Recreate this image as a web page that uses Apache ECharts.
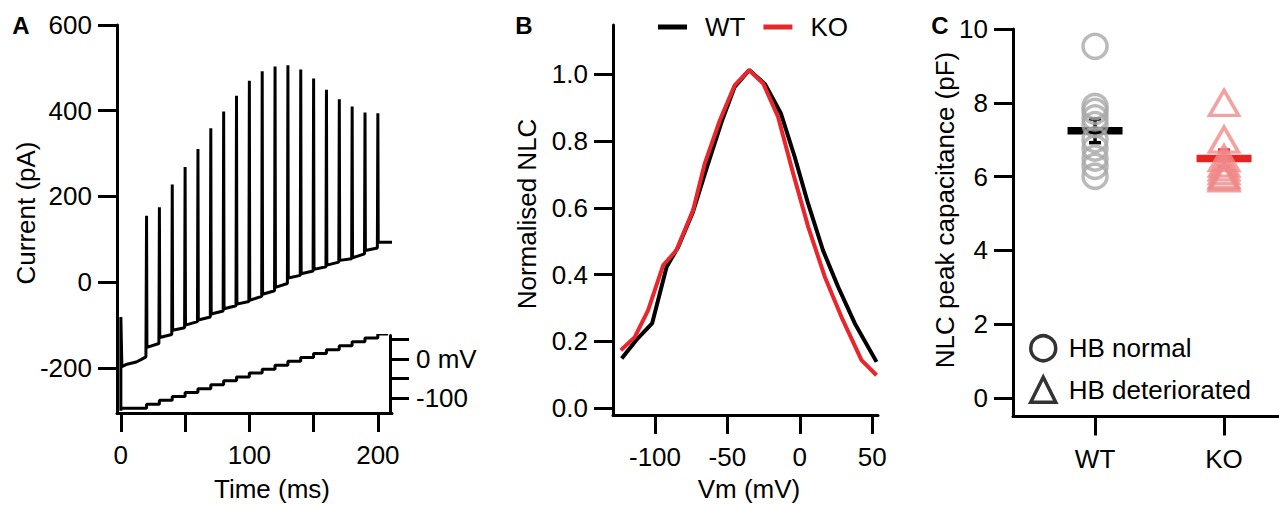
<!DOCTYPE html>
<html><head><meta charset="utf-8">
<script src="https://cdn.jsdelivr.net/npm/echarts@6/dist/echarts.min.js"></script>
<style>html,body{margin:0;padding:0;background:#fff}#c{width:1279px;height:505px}</style>
</head><body><div id="c"></div>
<script>
// ---------- Panel A : current trace ----------
const spikeTimes = [20,30,40,50,60,70,80,90,100,110,120,130,140,150,160,170,180,190,200];
const spikePeaks = [155,175,228,269,311,359,398,435,470,492,503,506,496,475,449,427,410,396,394];
const baseAfter  = [-152,-129,-112,-100,-88,-74,-62,-51,-42,-28,-12,10,20,30,40,51,57,74,94];
const baseBefore = [-143,-122,-106,-92,-81,-67,-55,-45,-33,-20,-3,16,26,36,47,55,66,80,93];
const initialTrace = [[0,-300],[0,-81],[0.8,-197],[4,-192],[8,-189],[12,-186],[16,-180],[19.5,-174]];
const traceEndTime = 211;
// ---------- Panel A : voltage protocol ----------
const voltTimes  = [0,20,30,40,50,60,70,80,90,100,110,120,130,140,150,160,170,180,190,200,208];
const voltLevels = [-126,-116,-106,-96,-86,-76,-66,-56,-46,-36,-26,-16,-6,4,14,24,34,44,54,64,64];
// ---------- Panel B ----------
const vmWT  = [-123,-113,-102,-92,-84,-74,-64,-54,-45,-35,-24,-13,-3.5,5.7,16,26.5,38,53];
const nlcWT = [0.149,0.204,0.254,0.423,0.483,0.585,0.723,0.857,0.962,1.012,0.97,0.882,0.752,0.613,0.473,0.363,0.254,0.139];
const vmKO  = [-123.6,-114,-104.8,-94.4,-85.2,-73.7,-65.6,-55.2,-44.9,-35,-25.3,-15,-4.6,5.8,17.3,28.8,42.6,53];
const nlcKO = [0.174,0.213,0.293,0.428,0.473,0.593,0.733,0.862,0.967,1.012,0.972,0.872,0.703,0.543,0.393,0.273,0.144,0.099];
// ---------- Panel C ----------
const categories = ['WT','KO'];
const capWT = [9.53,7.90,7.77,7.59,7.41,7.0,6.77,6.5,6.28,6.01];
const capKO = [8.0,7.0,6.5,6.35,6.25,6.15,6.05,6.0,5.95];
const capMean = [7.24,6.49];
const capSem  = [0.32,0.23];
// ---------- tick labels ----------
const aTimeTicks = [0,50,100,150,200];
const aTimeLabels = [0,100,200];
const aCurrentTicks = [-200,0,200,400,600];
const aVoltTicks = [50,0,-50,-100];
const aVoltLabels = [0,-100];
const bVmTicks = [-100,-50,0,50];
const bNlcTicks = [0,0.2,0.4,0.6,0.8,1.0];
const cCapTicks = [0,2,4,6,8,10];

const FONT = 'Liberation Sans';
const currentTrace = initialTrace.slice();
spikeTimes.forEach((t,i)=>{
  currentTrace.push([t, spikePeaks[i]]);
  currentTrace.push([t+0.3, baseAfter[i]]);
  const tNext = i+1 < spikeTimes.length ? spikeTimes[i+1]-0.4 : traceEndTime;
  currentTrace.push([tNext, baseBefore[i]]);
});
const voltTrace = voltTimes.map((t,i)=>[t, voltLevels[i]]);

const axisLine = {show:true, onZero:false, lineStyle:{color:'#000', width:3}};
const tick = (vals)=>({show:true, length:19, customValues:vals, lineStyle:{color:'#000', width:3}});
const label = (vals, extra)=>Object.assign({show:true, customValues:vals, color:'#000', fontSize:26, fontFamily:FONT, margin:25}, extra||{});

const chart = echarts.init(document.getElementById('c'), null, {renderer:'svg'});
chart.setOption({
  animation:false,
  backgroundColor:'#fff',
  textStyle:{fontFamily:FONT},
  grid:[
    {left:117, top:25, width:275, height:388, outerBoundsMode:'none'},
    {left:117, top:335.6, width:273, height:78, outerBoundsMode:'none'},
    {left:613, top:25, width:265, height:390, outerBoundsMode:'none'},
    {left:1013, top:29, width:266, height:387.5, outerBoundsMode:'none'}
  ],
  xAxis:[
    {gridIndex:0, type:'value', min:-3, max:211, axisLine, axisTick:tick(aTimeTicks), axisLabel:label(aTimeLabels,{margin:29}), splitLine:{show:false}},
    {gridIndex:1, type:'value', min:-3, max:209.5, show:false},
    {gridIndex:2, type:'value', min:-129, max:54, axisLine, axisTick:tick(bVmTicks), axisLabel:label(bVmTicks,{margin:29}), splitLine:{show:false}},
    {gridIndex:3, type:'value', min:-0.636, max:1.426, axisLine, axisTick:tick([0,1]), axisLabel:label([0,1],{margin:29, formatter:v=>categories[Math.round(v)]}), splitLine:{show:false}}
  ],
  yAxis:[
    {gridIndex:0, type:'value', min:-305, max:600, axisLine, axisTick:tick(aCurrentTicks), axisLabel:label(aCurrentTicks), splitLine:{show:false}},
    {gridIndex:1, type:'value', position:'right', min:-140, max:60, axisLine, axisTick:tick(aVoltTicks), axisLabel:label(aVoltLabels,{margin:26, formatter:v=>v===0?'0 mV':String(v)}), splitLine:{show:false}},
    {gridIndex:2, type:'value', min:-0.02, max:1.147, axisLine, axisTick:tick(bNlcTicks), axisLabel:label(bNlcTicks,{formatter:v=>v.toFixed(1)}), splitLine:{show:false}},
    {gridIndex:3, type:'value', min:-0.5, max:10, axisLine, axisTick:tick(cCapTicks), axisLabel:label(cCapTicks), splitLine:{show:false}}
  ],
  legend:[
    {data:['WT','KO'], left:658, top:14, padding:0, icon:'rect', itemWidth:29, itemHeight:5, itemGap:18,
     textStyle:{fontSize:26, fontFamily:FONT, color:'#000', padding:[0,0,0,13]}},
    {data:[{name:'HB normal', icon:'circle'},{name:'HB deteriorated', icon:'triangle'}], orient:'vertical',
     left:1029, top:334, padding:0, itemWidth:25, itemHeight:25, itemGap:13,
     itemStyle:{color:'rgba(0,0,0,0)', borderColor:'#000', borderWidth:3.5},
     textStyle:{fontSize:26, fontFamily:FONT, color:'#000', padding:[0,0,0,8]}}
  ],
  series:[
    {name:'Current', type:'line', xAxisIndex:0, yAxisIndex:0, data:currentTrace, showSymbol:false, symbol:'none',
     lineStyle:{color:'#000', width:3}},
    {name:'Voltage', type:'line', xAxisIndex:1, yAxisIndex:1, data:voltTrace, step:'end', showSymbol:false, symbol:'none',
     lineStyle:{color:'#000', width:3}},
    {name:'WT', type:'line', xAxisIndex:2, yAxisIndex:2, data:vmWT.map((v,i)=>[v,nlcWT[i]]), showSymbol:false, symbol:'none',
     itemStyle:{color:'#000'}, lineStyle:{color:'#000', width:4}},
    {name:'KO', type:'line', xAxisIndex:2, yAxisIndex:2, data:vmKO.map((v,i)=>[v,nlcKO[i]]), showSymbol:false, symbol:'none',
     itemStyle:{color:'#e8262b'}, lineStyle:{color:'#e8262b', width:4}},
    {name:'HB normal', type:'scatter', xAxisIndex:3, yAxisIndex:3, data:capWT.map(v=>[0,v]), symbol:'circle', symbolSize:24,
     itemStyle:{color:'rgba(0,0,0,0)', borderColor:'#a9a9a9', borderWidth:3.5}},
    {name:'HB deteriorated', type:'scatter', xAxisIndex:3, yAxisIndex:3, data:capKO.map(v=>[1,v]), symbol:'triangle', symbolSize:[29,25],
     itemStyle:{color:'rgba(0,0,0,0)', borderColor:'#f08a8a', borderWidth:3.5}},
    {name:'Mean', type:'custom', xAxisIndex:3, yAxisIndex:3, data:capMean.map((m,i)=>[i,m,capSem[i]]),
     renderItem:(params, api)=>{
       const x = api.value(0), m = api.value(1), s = api.value(2);
       const c = api.coord([x,m]), top = api.coord([x,m+s]), bot = api.coord([x,m-s]);
       const col = x===0 ? '#000' : '#e52421';
       return {type:'group', children:[
         {type:'line', shape:{x1:c[0]-27.5, y1:c[1], x2:c[0]+27.5, y2:c[1]}, style:{stroke:col, lineWidth:7.5}},
         {type:'line', shape:{x1:c[0], y1:top[1], x2:c[0], y2:bot[1]}, style:{stroke:col, lineWidth:3.5}},
         {type:'line', shape:{x1:c[0]-6, y1:top[1], x2:c[0]+6, y2:top[1]}, style:{stroke:col, lineWidth:3.5}},
         {type:'line', shape:{x1:c[0]-6, y1:bot[1], x2:c[0]+6, y2:bot[1]}, style:{stroke:col, lineWidth:3.5}}
       ]};
     }}
  ],
  graphic:[
    {type:'text', x:21, y:25, style:{text:'A', fontSize:24, fontWeight:'bold', fontFamily:FONT, fill:'#000', align:'center', verticalAlign:'middle', textAlign:'center', textVerticalAlign:'middle'}},
    {type:'text', x:524, y:25, style:{text:'B', fontSize:24, fontWeight:'bold', fontFamily:FONT, fill:'#000', align:'center', verticalAlign:'middle', textAlign:'center', textVerticalAlign:'middle'}},
    {type:'text', x:940, y:25, style:{text:'C', fontSize:24, fontWeight:'bold', fontFamily:FONT, fill:'#000', align:'center', verticalAlign:'middle', textAlign:'center', textVerticalAlign:'middle'}},
    {type:'text', x:26, y:213, rotation:Math.PI/2, style:{text:'Current (pA)', fontSize:26, fontFamily:FONT, fill:'#000', align:'center', verticalAlign:'middle', textAlign:'center', textVerticalAlign:'middle'}},
    {type:'text', x:272, y:489, style:{text:'Time (ms)', fontSize:26, fontFamily:FONT, fill:'#000', align:'center', verticalAlign:'middle', textAlign:'center', textVerticalAlign:'middle'}},
    {type:'text', x:527, y:214, rotation:Math.PI/2, style:{text:'Normalised NLC', fontSize:26, fontFamily:FONT, fill:'#000', align:'center', verticalAlign:'middle', textAlign:'center', textVerticalAlign:'middle'}},
    {type:'text', x:749, y:489, style:{text:'Vm (mV)', fontSize:26, fontFamily:FONT, fill:'#000', align:'center', verticalAlign:'middle', textAlign:'center', textVerticalAlign:'middle'}},
    {type:'text', x:945, y:210, rotation:Math.PI/2, style:{text:'NLC peak capacitance (pF)', fontSize:26, fontFamily:FONT, fill:'#000', align:'center', verticalAlign:'middle', textAlign:'center', textVerticalAlign:'middle'}}
  ]
});
</script></body></html>
